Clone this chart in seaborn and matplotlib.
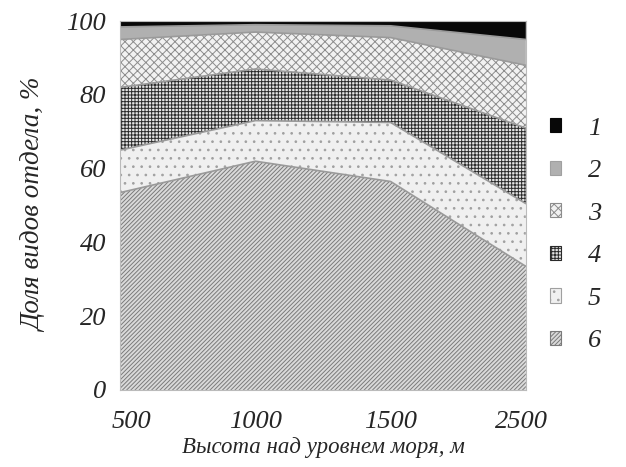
import numpy as np
import pandas as pd
import seaborn as sns
import matplotlib.pyplot as plt
import matplotlib.transforms as mtransforms
from matplotlib.patches import Patch

# высоты (категории по оси x)
heights = ["500", "1000", "1500", "2500"]
groups = ["1", "2", "3", "4", "5", "6"]

# доли видов по группам, % (снизу вверх: 6, 5, 4, 3, 2, 1)
g6 = [53.5, 62.0, 56.5, 33.5]
g5 = [11.5, 11.0, 16.0, 17.0]
g4 = [17.0, 14.0, 11.5, 20.5]
g3 = [13.0, 10.0, 11.5, 17.0]
g2 = [3.4, 2.0, 3.2, 7.0]
g1 = [1.6, 1.0, 1.3, 5.0]

sns.set_style("white")
plt.rcParams["font.family"] = ["Liberation Serif", "DejaVu Serif"]
plt.rcParams["hatch.linewidth"] = 0.7

df = pd.DataFrame({"6": g6, "5": g5, "4": g4, "3": g3, "2": g2, "1": g1}, index=heights)

styles = {
    "6": dict(facecolor="#dadada", edgecolor="#7a7a7a", hatch="////////"),
    "5": dict(facecolor="#f0f0f0", edgecolor="#a0a0a0", hatch=".."),
    "4": dict(facecolor="#e4e4e4", edgecolor="#2a2a2a", hatch="+++++"),
    "3": dict(facecolor="#f2f2f2", edgecolor="#8c8c8c", hatch="xxxx"),
    "2": dict(facecolor="#b0b0b0", edgecolor="#a0a0a0", hatch=""),
    "1": dict(facecolor="#080808", edgecolor="#080808", hatch=""),
}

fig, ax = plt.subplots(figsize=(6.26, 4.67), dpi=100)
fig.subplots_adjust(left=0.192, right=0.84, top=0.955, bottom=0.165)

x = np.arange(len(heights))
order = ["6", "5", "4", "3", "2", "1"]
polys = ax.stackplot(x, [df[c].values for c in order], linewidth=0)
for p, c in zip(polys, order):
    p.set_facecolor(styles[c]["facecolor"])
    p.set_edgecolor(styles[c]["edgecolor"])
    p.set_hatch(styles[c]["hatch"])
    p.set_linewidth(0)

# границы слоёв
cum = df[order].cumsum(axis=1)
for c in order[:-1]:
    sns.lineplot(x=x, y=cum[c].values, ax=ax, color="#9a9a9a", linewidth=1.2, legend=False)

ax.set_xlim(0, 3)
ax.set_ylim(0, 100)
ax.set_xticks(x)
ax.set_xticklabels(heights, fontsize=19, fontstyle="italic")
ax.set_yticks(range(0, 101, 20))
ax.set_yticklabels([str(v) for v in range(0, 101, 20)], fontsize=19, fontstyle="italic")
ax.tick_params(axis="y", length=5, color="#bbbbbb", pad=5)
ax.tick_params(axis="x", length=0, pad=15)
for s in ax.spines.values():
    s.set_color("#bbbbbb")
    s.set_linewidth(0.8)

# подписи крайних значений чуть сдвинуты внутрь, как в оригинале
xl = ax.get_xticklabels()
xl[0].set_transform(xl[0].get_transform() + mtransforms.ScaledTranslation(0.11, 0, fig.dpi_scale_trans))
xl[-1].set_transform(xl[-1].get_transform() + mtransforms.ScaledTranslation(-0.04, 0, fig.dpi_scale_trans))

ax.set_xlabel("Высота над уровнем моря, м", fontsize=16.5, fontstyle="italic", labelpad=3)
ax.set_ylabel("Доля видов отдела, %", fontsize=19.5, fontstyle="italic", labelpad=14)

handles = [Patch(facecolor=styles[g]["facecolor"], edgecolor=styles[g]["edgecolor"],
                 hatch=styles[g]["hatch"], linewidth=0.8) for g in groups]
leg = ax.legend(handles, groups, loc="center left", bbox_to_anchor=(1.0, 0.42),
                frameon=False, prop={"size": 19, "style": "italic"},
                handlelength=0.45, handleheight=0.45, labelspacing=0.78, handletextpad=1.0)

fig.savefig("out.png", dpi=100)
